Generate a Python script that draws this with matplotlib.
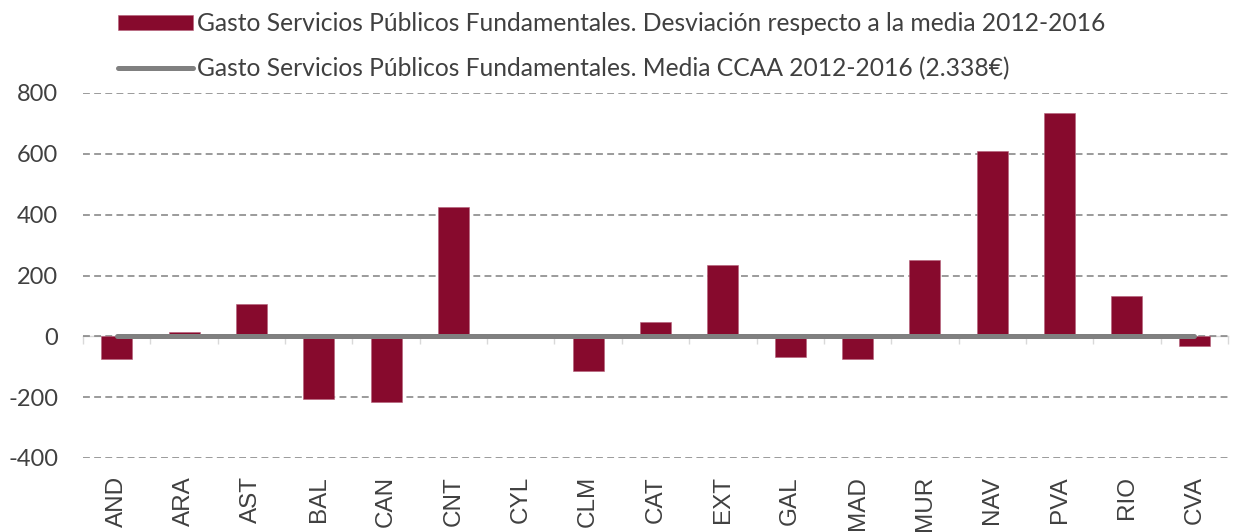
import matplotlib.pyplot as plt
import numpy as np

plt.rcParams['axes.unicode_minus'] = False

regions = ['AND', 'ARA', 'AST', 'BAL', 'CAN', 'CNT', 'CYL', 'CLM', 'CAT',
           'EXT', 'GAL', 'MAD', 'MUR', 'NAV', 'PVA', 'RIO', 'CVA']
deviation = [-74, 14, 106, -207, -215, 426, 0, -115, 47,
             233, -69, -73, 251, 610, 734, 133, -31]
media_line = [0] * len(regions)

bar_label = 'Gasto Servicios Públicos Fundamentales. Desviación respecto a la media 2012-2016'
line_label = 'Gasto Servicios Públicos Fundamentales. Media CCAA 2012-2016 (2.338€)'

BAR_COLOR = '#870A2D'
LINE_COLOR = '#808080'
TEXT_COLOR = '#404040'

fig = plt.figure(figsize=(12.34, 5.32), dpi=100)
ax = fig.add_axes([83 / 1234, 1 - 458 / 532, (1228 - 83) / 1234, (458 - 93) / 532])

x = np.arange(len(regions))
bars = ax.bar(x, deviation, width=0.46, color=BAR_COLOR, edgecolor='#b56079',
              linewidth=0.4, label=bar_label, zorder=2)
line, = ax.plot(x, media_line, color=LINE_COLOR, linewidth=3.6,
                solid_capstyle='round', label=line_label, zorder=3)

ax.set_xlim(-0.5, len(regions) - 0.5)
ax.set_ylim(-400, 800)
ax.set_yticks(np.arange(-400, 801, 200))
ax.yaxis.grid(True, color='#808080', linewidth=1.1, linestyle=(0, (4.5, 2.8)), zorder=0)

for s in ax.spines.values():
    s.set_visible(False)

ax.set_xticks(x)
ax.set_xticklabels(regions, rotation=90, fontfamily='Liberation Sans',
                   fontsize=17.5, color=TEXT_COLOR, va='top', ha='center')
ax.tick_params(axis='x', length=0, pad=13)
ax.tick_params(axis='y', length=0, pad=18, labelsize=17, labelcolor=TEXT_COLOR)
for lab in ax.get_yticklabels():
    lab.set_fontfamily('Lato')

# category axis line at zero with separator ticks
sec = ax.secondary_xaxis(1 / 3)
sec.set_xticks(np.arange(-0.5, len(regions), 1.0))
sec.set_xticklabels([])
sec.tick_params(axis='x', direction='out', length=5.5, color='#d9d9d9', width=1)
sec.spines['bottom'].set_color('#d9d9d9')
sec.spines['bottom'].set_linewidth(1)
for k in ['top', 'left', 'right']:
    sec.spines[k].set_visible(False)

leg = fig.legend(handles=[bars, line], labels=[bar_label, line_label],
                 loc='upper left', bbox_to_anchor=(118 / 1234, 0.977),
                 frameon=False, borderpad=0, borderaxespad=0,
                 handlelength=3.05, handleheight=0.55, handletextpad=0.16,
                 labelspacing=0.87, prop={'family': 'Lato', 'size': 17.7})
for t in leg.get_texts():
    t.set_color(TEXT_COLOR)

plt.savefig('out.png', dpi=100)
plt.close()
